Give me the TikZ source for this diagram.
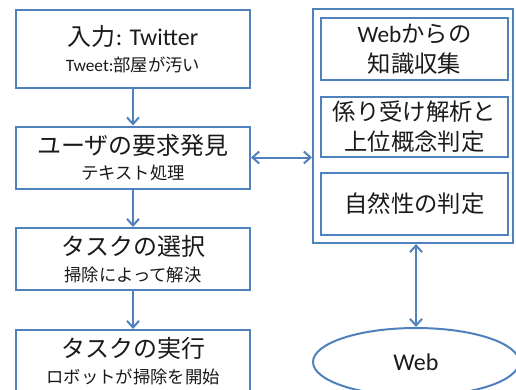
\documentclass[tikz,border=0pt]{standalone}
\usepackage{fontspec}
\setmainfont{Noto Sans CJK JP}
\newfontfamily\lat{Carlito}
\usetikzlibrary{arrows.meta,shapes.geometric}
\definecolor{bl}{HTML}{4F81BD}
\definecolor{tx}{HTML}{1A1A1A}
\begin{document}
\begin{tikzpicture}[x=0.75pt,y=-0.75pt,
  lbox/.style={draw=bl,line width=1.5pt,fill=white,minimum width=175.5pt,inner sep=0pt,align=center,text=tx,
    font=\fontsize{13}{19}\selectfont},
  rbox/.style={draw=bl,line width=1.5pt,minimum width=140.25pt,inner sep=0pt,align=center,text=tx,
    font=\fontsize{17.5}{22.5}\selectfont},
  arr/.style={draw=bl,line width=1.5pt,-{Straight Barb[length=5pt,width=9pt]}},
  arrb/.style={draw=bl,line width=1.5pt,{Straight Barb[length=5pt,width=9pt]}-{Straight Barb[length=5pt,width=9pt]}}
]
\useasboundingbox (0,0) rectangle (516,389);
\newcommand{\bigt}{\fontsize{18}{20}\selectfont}
\node[lbox,minimum height=58.5pt] (b1) at (133,49) {{\bigt 入力{\lat: Twitter}}\\{\lat Tweet:}部屋が汚い};
\node[lbox,minimum height=46.5pt] (b2) at (133,157.5) {{\bigt ユーザの要求発見}\\テキスト処理};
\node[lbox,minimum height=46.5pt] (b3) at (133,259) {{\bigt タスクの選択}\\掃除によって解決};
\node[lbox,minimum height=46.5pt] (b4) at (133,361) {{\bigt タスクの実行}\\ロボットが掃除を開始};
\node[draw=bl,line width=1.5pt,minimum width=150pt,minimum height=175.5pt,inner sep=0pt] (outer) at (413,126) {};
\node[rbox,minimum height=46.5pt] (ra) at (414.5,49) {{\lat Web}からの\\知識収集};
\node[rbox,minimum height=45pt] (rb) at (414.5,127) {係り受け解析と\\上位概念判定};
\node[rbox,minimum height=46.5pt] (rc) at (414.5,204) {自然性の判定};
\node[ellipse,draw=bl,line width=1.5pt,minimum width=154.5pt,minimum height=51pt,inner sep=0pt,text=tx,
  font=\lat\fontsize{18}{20}\selectfont] (web) at (416,362) {Web};
\draw[arr] (b1) -- (b2);
\draw[arr] (b2) -- (b3);
\draw[arr] (b3) -- (b4);
\draw[arrb] (b2.east) -- (b2.east -| outer.west);
\draw[arrb] (web.north |- outer.south) -- (web.north);
\end{tikzpicture}
\end{document}
